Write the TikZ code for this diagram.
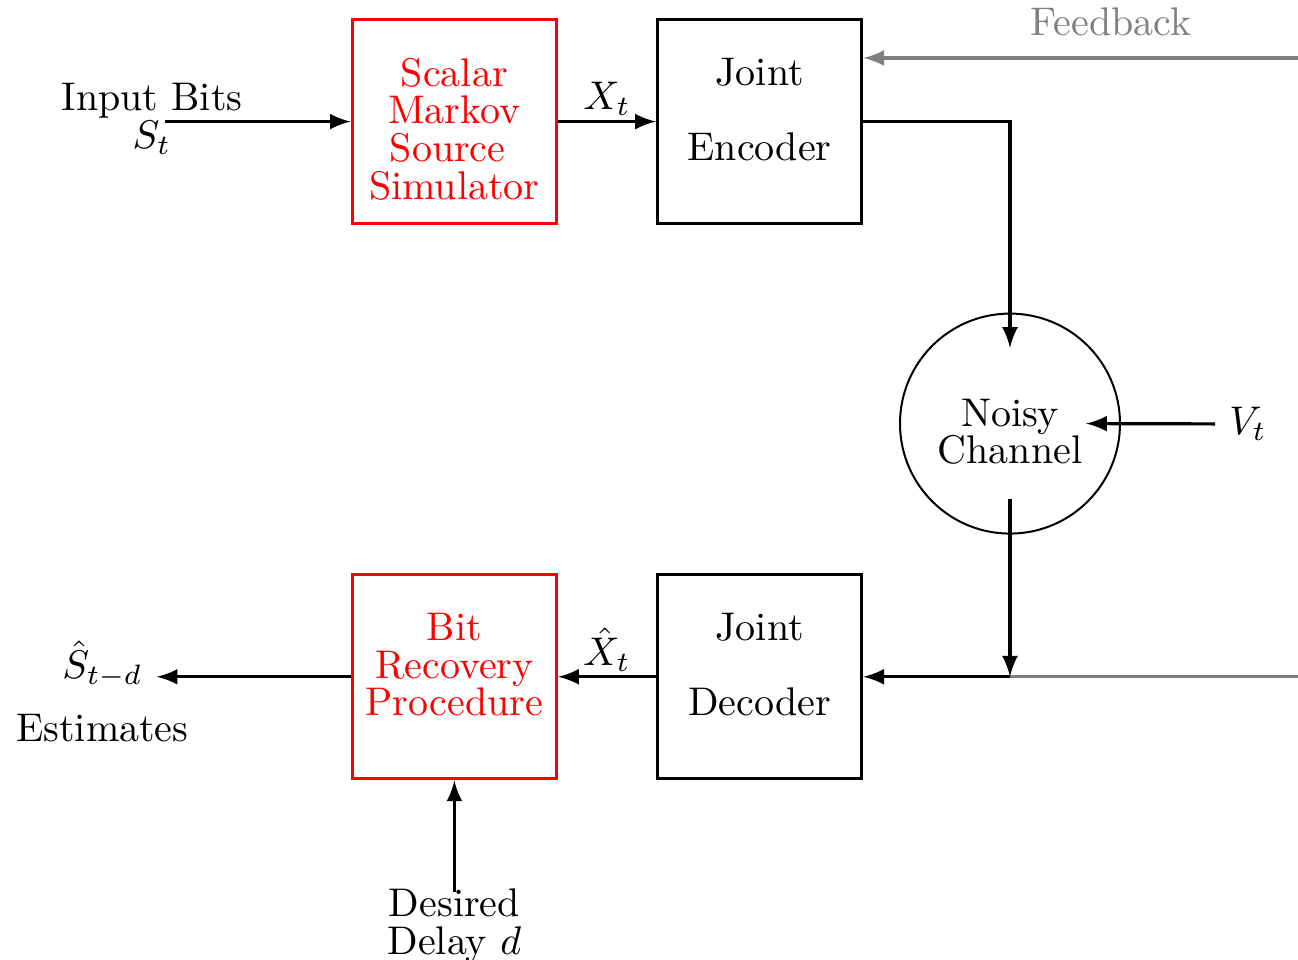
\documentclass[tikz,border=0pt]{standalone}
\usepackage{amsmath,amssymb}
\usetikzlibrary{arrows,positioning,calc}

\tikzset{
  blk/.style={draw,thick,minimum size=51pt,inner sep=0pt},
  srcblk/.style={blk,red},
  blktxt/.style={align=center},
  arr/.style={thick,-latex},
}

\begin{document}
\begin{tikzpicture}[x=1pt,y=1pt,font=\fontsize{10}{9.4}\selectfont]
  \useasboundingbox (0,0) rectangle (324.5,-240);

  % blocks
  \node[srcblk] (src) at (113.6,-30.4) {};
  \node[blk,right=24.5pt of src] (enc) {};
  \node[blk,below=87pt of enc] (dec) {};
  \node[srcblk,left=24.5pt of dec] (rec) {};
  \node[draw,circle,line width=0.5pt,minimum size=55pt] (chan) at (252.5,-105.9) {};

  % block texts
  \node[blktxt,red,below=6.5pt of src.north] (srctxt) {Scalar\\Markov\\Source\kern3.4pt\\Simulator};
  \node[blktxt,below=6.5pt of enc.north] (enctxt) {Joint\\ \\Encoder};
  \node[blktxt,below=6.5pt of dec.north] (dectxt) {Joint\\ \\Decoder};
  \node[blktxt,red,below=6.5pt of rec.north] (rectxt) {Bit\\Recovery\\Procedure};
  \node[blktxt] (chantxt) at ($(chan.center)+(0,-2)$) {Noisy\\Channel};

  % outer labels
  \node[align=center] (inbits) at (38,-29.7) {Input Bits\\$S_t$};
  \node (vt) at (312,-106) {$V_t$};
  \node (shat) at (25.6,-166) {$\hat{S}_{t-d}$};
  \node[below=-0.5pt of shat] (est) {Estimates};
  \node[align=center,inner sep=0pt,below=27pt of rec] (delay) {Desired\\Delay $d$};
  \node[gray] (fbtxt) at (277.75,-5.5) {Feedback};

  \coordinate (instart) at (41.25,-30.4);
  \coordinate (chin) at ($(chan.center)+(0,18.9)$);
  \coordinate (chout) at ($(chan.center)+(0,-18.9)$);
  \coordinate (chv) at ($(chan.center)+(19,0)$);
  \coordinate (junc) at (chout |- dec.east);
  \coordinate (fbend) at ($(enc.east)+(0,15.9)$);
  \coordinate (fbstart) at (324.5,-14.5);

  % connectors
  \draw[arr] (instart) -- (src);
  \draw[arr] (src) -- node[above,inner sep=1pt] (xt) {$X_t$} (enc);
  \draw[arr] (enc.east) -| (chin);
  \draw[arr] (vt) -- (chv);
  \draw[thick,gray] (junc) -- (junc -| fbstart);
  \draw[arr] (chout) -- (junc);
  \draw[arr] (junc) -- (dec);
  \draw[arr] (dec) -- node[above,inner sep=1pt] (xhat) {$\hat{X}_t$} (rec);
  \draw[arr] (rec) -- (rec -| shat.east);
  \draw[arr] ([yshift=-1pt]delay.north) -- (rec);
  \draw[arr,gray] (fbstart) -- (fbend);
\end{tikzpicture}
\end{document}
